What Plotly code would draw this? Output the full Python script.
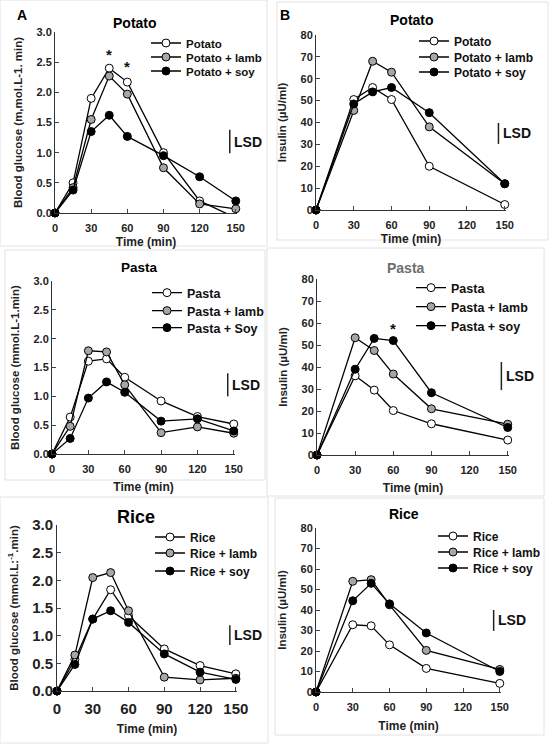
import plotly.graph_objects as go

# time points
t_glu = [0, 15, 30, 45, 60, 90, 120, 150]
t_ins = [0, 30, 45, 60, 90, 150]

# blood glucose (mmol/L)
glu_potato = [0, 0.5, 1.9, 2.4, 2.17, 1.0, 0.2, -0.08]
glu_potato_lamb = [0, 0.42, 1.55, 2.27, 1.97, 0.75, 0.15, 0.07]
glu_potato_soy = [0, 0.38, 1.35, 1.62, 1.27, 0.95, 0.6, 0.2]

glu_pasta = [0, 0.64, 1.61, 1.65, 1.33, 0.92, 0.65, 0.52]
glu_pasta_lamb = [0, 0.48, 1.79, 1.77, 1.2, 0.37, 0.47, 0.36]
glu_pasta_soy = [0, 0.27, 0.97, 1.25, 1.07, 0.57, 0.61, 0.4]

glu_rice = [0, 0.57, 1.3, 1.83, 1.36, 0.76, 0.46, 0.31]
glu_rice_lamb = [0, 0.65, 2.05, 2.14, 1.45, 0.25, 0.2, 0.23]
glu_rice_soy = [0, 0.48, 1.3, 1.45, 1.24, 0.67, 0.34, 0.21]

# insulin (uU/ml)
ins_potato = [0, 50.5, 56, 50.5, 20, 2.5]
ins_potato_lamb = [0, 45.5, 68, 63, 38, 12]
ins_potato_soy = [0, 48.5, 54, 56, 44.5, 12]

ins_pasta = [0, 36, 29.5, 20.2, 14.2, 6.8]
ins_pasta_lamb = [0, 53.3, 47.5, 36.8, 21, 14]
ins_pasta_soy = [0, 39, 53, 52, 28.3, 12.5]

ins_rice = [0, 32.8, 32.3, 23, 11.5, 4.2]
ins_rice_lamb = [0, 54, 54.8, 42.5, 20.3, 11]
ins_rice_soy = [0, 44.5, 53, 43, 28.8, 10]

# LSD bars (low, high)
lsd_glu_potato = [0.99, 1.38]
lsd_ins_potato = [30.2, 39.8]
lsd_glu_pasta = [1.0, 1.4]
lsd_ins_pasta = [29.5, 42.3]
lsd_glu_rice = [0.83, 1.19]
lsd_ins_rice = [29.8, 40.0]

W, H = 550, 744
FONT = "Arial, Liberation Sans, sans-serif"
FILLS = ["white", "#a6a6a6", "black"]


def px(x):
    return x / W


def py(y):
    return 1 - y / H


fig = go.Figure()

# dom = plot area in pixels (left, right, top, bottom); leg = legend left x and row centres
panels = [
    dict(n=1, t=t_glu, ys=[glu_potato, glu_potato_lamb, glu_potato_soy],
         names=["Potato", "Potato + lamb", "Potato + soy"],
         dom=(55, 237, 32, 213), yr=3, dt=0.5, fmt=".1f",
         ytitle="Blood glucose (m,mol.L-1. min)",
         title="Potato", tpos=(135, 23), tsize=14, tcol="black",
         legx=146, legy=[43, 57, 71], lfont=11.5, tick=11, xts=4,
         lsd=lsd_glu_potato),
    dict(n=2, t=t_ins, ys=[ins_potato, ins_potato_lamb, ins_potato_soy],
         names=["Potato", "Potato + lamb", "Potato + soy"],
         dom=(316, 506, 35, 210), yr=80, dt=10, fmt="d",
         ytitle="Insulin (µU/ml)",
         title="Potato", tpos=(412, 20), tsize=14, tcol="black",
         legx=414, legy=[41, 57, 72], lfont=12, tick=11, xts=4,
         lsd=lsd_ins_potato),
    dict(n=3, t=t_glu, ys=[glu_pasta, glu_pasta_lamb, glu_pasta_soy],
         names=["Pasta", "Pasta + lamb", "Pasta + Soy"],
         dom=(52, 235, 281, 454), yr=3, dt=0.5, fmt=".1f",
         ytitle="Blood glucose (mmol.L-1.min)",
         title="Pasta", tpos=(139, 267), tsize=13.5, tcol="black",
         legx=147, legy=[293, 311, 328], lfont=12.5, tick=11, xts=8,
         lsd=lsd_glu_pasta),
    dict(n=4, t=t_ins, ys=[ins_pasta, ins_pasta_lamb, ins_pasta_soy],
         names=["Pasta", "Pasta + lamb", "Pasta + soy"],
         dom=(317, 509, 279, 455), yr=80, dt=10, fmt="d",
         ytitle="Insulin (µU/ml)",
         title="Pasta", tpos=(406, 268), tsize=14, tcol="#6e6e6e",
         legx=411, legy=[288, 307, 326], lfont=12.5, tick=11, xts=8,
         lsd=lsd_ins_pasta),
    dict(n=5, t=t_glu, ys=[glu_rice, glu_rice_lamb, glu_rice_soy],
         names=["Rice", "Rice + lamb", "Rice + soy"],
         dom=(57, 237, 525, 691), yr=3, dt=0.5, fmt=".1f",
         ytitle="Blood glucose (mmol.L:<sup>-1</sup>.min)",
         title="Rice", tpos=(136, 517), tsize=18, tcol="black",
         legx=150, legy=[537, 553, 571], lfont=12, tick=15, xts=8,
         lsd=lsd_glu_rice),
    dict(n=6, t=t_ins, ys=[ins_rice, ins_rice_lamb, ins_rice_soy],
         names=["Rice", "Rice + lamb", "Rice + soy"],
         dom=(316, 501, 528, 692), yr=80, dt=10, fmt="d",
         ytitle="Insulin (µU/ml)",
         title="Rice", tpos=(404, 514), tsize=14, tcol="black",
         legx=433, legy=[536, 552, 568], lfont=12, tick=11, xts=9,
         lsd=lsd_ins_rice),
]

layout_extra = {}
annotations = []
shapes = []

for p in panels:
    n = p["n"]
    xa = "x" if n == 1 else f"x{n}"
    ya = "y" if n == 1 else f"y{n}"
    for k, (yv, name) in enumerate(zip(p["ys"], p["names"])):
        # one legend per entry so the row spacing can follow the original
        li = (n - 1) * 3 + k + 1
        lg = "legend" if li == 1 else f"legend{li}"
        fig.add_trace(go.Scatter(
            x=p["t"], y=yv, name=name, mode="lines+markers",
            xaxis=xa, yaxis=ya, legend=lg, showlegend=True,
            line=dict(color="black", width=1.3),
            marker=dict(size=8, color=FILLS[k], line=dict(color="black", width=1)),
            cliponaxis=(n == 1 and k == 0),
        ))
        layout_extra[lg] = dict(
            x=px(p["legx"]), y=py(p["legy"][k]), xanchor="left", yanchor="middle",
            xref="paper", yref="paper", bgcolor="rgba(0,0,0,0)", itemwidth=30,
            font=dict(family=FONT, size=p["lfont"], color="#111", weight="bold"),
        )
    x0, x1, yt, yb = p["dom"]
    layout_extra["xaxis" if n == 1 else f"xaxis{n}"] = dict(
        domain=[px(x0), px(x1)], anchor=ya, range=[0, 151], automargin=False,
        tickvals=[0, 30, 60, 90, 120, 150], ticks="inside", ticklen=4,
        ticklabelstandoff=5 if p["tick"] < 14 else 4,
        showline=True, linecolor="#333", linewidth=1, showgrid=False, zeroline=False,
        tickfont=dict(family=FONT, size=p["tick"], color="#222", weight="bold"),
        title=dict(text="Time (min)", standoff=p["xts"],
                   font=dict(family=FONT, size=12, color="#222", weight="bold")),
    )
    layout_extra["yaxis" if n == 1 else f"yaxis{n}"] = dict(
        domain=[py(yb), py(yt)], anchor=xa, range=[0, p["yr"]], automargin=False,
        dtick=p["dt"], tickformat=p["fmt"], ticks="inside", ticklen=4,
        showline=True, linecolor="#333", linewidth=1, showgrid=False, zeroline=False,
        tickfont=dict(family=FONT, size=p["tick"], color="#222", weight="bold"),
        title=dict(text=p["ytitle"], standoff=11,
                   font=dict(family=FONT, size=11.5, color="#222", weight="bold")),
    )
    annotations.append(dict(
        text=p["title"], x=px(p["tpos"][0]), y=py(p["tpos"][1]),
        xref="paper", yref="paper", xanchor="center", yanchor="middle", showarrow=False,
        font=dict(family=FONT, size=p["tsize"], color=p["tcol"], weight="bold"),
    ))
    lo, hi = p["lsd"]
    shapes.append(dict(type="line", xref=xa, yref=ya, x0=145, x1=145, y0=lo, y1=hi,
                       line=dict(color="#222", width=1.5)))
    annotations.append(dict(
        text="LSD", x=147, y=(lo + hi) / 2, xref=xa, yref=ya, xanchor="left",
        yanchor="middle", showarrow=False,
        font=dict(family=FONT, size=14, color="#111", weight="bold"),
    ))

# significance stars
for xa, ya, sx, sy in [("x", "y", 45, 2.63), ("x", "y", 60, 2.42), ("x4", "y4", 60, 57.7)]:
    annotations.append(dict(text="*", x=sx, y=sy, xref=xa, yref=ya, showarrow=False,
                            xanchor="center", yanchor="middle",
                            font=dict(family=FONT, size=15, color="#111", weight="bold")))

# panel letters
for letter, lx, ly in [("A", 22, 15), ("B", 285, 15)]:
    annotations.append(dict(text=letter, x=px(lx), y=py(ly), xref="paper", yref="paper",
                            xanchor="center", yanchor="middle", showarrow=False,
                            font=dict(family=FONT, size=14, color="black", weight="bold")))

# light frames around each panel
for bx0, by0, bx1, by1 in [(0, 0, 267, 246), (277, 2, 548, 240),
                           (5, 250, 265, 480), (267, 248, 544, 496),
                           (0, 497, 268, 743), (275, 498, 544, 735)]:
    shapes.append(dict(type="rect", xref="paper", yref="paper",
                       x0=px(bx0), x1=px(bx1), y0=py(by1), y1=py(by0),
                       line=dict(color="#e2e2e2", width=1), layer="below"))

fig.update_layout(
    width=W, height=H, margin=dict(l=0, r=0, t=0, b=0, autoexpand=False),
    paper_bgcolor="white", plot_bgcolor="white", showlegend=True,
    annotations=annotations, shapes=shapes, **layout_extra,
)

# drop the page's default body margin so the figure sits at the window corner
fig.write_html("out.html", config={"displayModeBar": False},
               post_script="document.body.style.margin='0';")
